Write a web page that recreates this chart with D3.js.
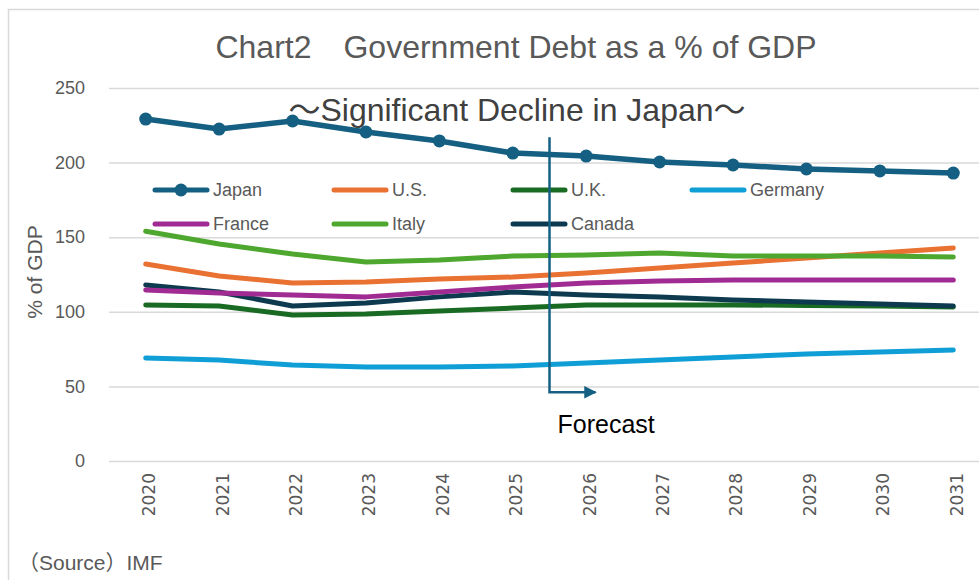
<!DOCTYPE html>
<html>
<head>
<meta charset="utf-8">
<script src="https://cdn.jsdelivr.net/npm/d3@7"></script>
<style>
  body { margin: 0; background: #fff; }
  svg { display: block; }
  .narrow { font-family: "Liberation Sans Narrow", "Liberation Sans", "Noto Sans CJK JP", sans-serif; }
</style>
</head>
<body>
<div id="chart"></div>
<script>
// Data
const years = ["2020", "2021", "2022", "2023", "2024", "2025", "2026", "2027", "2028", "2029", "2030", "2031"];
const japan   = [229.2, 222.5, 227.9, 220.5, 214.5, 206.4, 204.4, 200.4, 198.4, 195.7, 194.4, 193.0];
const us      = [132.0, 124.0, 119.3, 120.0, 122.0, 123.3, 126.0, 129.4, 132.7, 136.0, 139.4, 142.8];
const uk      = [104.6, 103.9, 97.9, 98.5, 100.5, 102.5, 104.6, 104.6, 104.6, 104.3, 103.9, 103.2];
const germany = [69.0, 67.7, 64.3, 63.0, 63.0, 63.7, 65.7, 67.7, 69.7, 71.7, 73.0, 74.4];
const france  = [114.6, 112.6, 111.3, 110.0, 113.3, 116.6, 119.3, 120.6, 121.3, 121.3, 121.3, 121.3];
const italy   = [154.0, 145.4, 138.7, 133.4, 134.7, 137.4, 138.0, 139.4, 137.4, 137.4, 137.4, 136.7];
const canada  = [118.0, 113.3, 103.9, 105.9, 110.0, 113.3, 111.3, 110.0, 107.9, 106.6, 105.2, 103.9];
const yTicks  = [0, 50, 100, 150, 200, 250];

const series = [
  { name: "Japan",   values: japan,   color: "#156082", marker: true },
  { name: "U.S.",    values: us,      color: "#E97132" },
  { name: "U.K.",    values: uk,      color: "#196B24" },
  { name: "Germany", values: germany, color: "#0F9ED5" },
  { name: "France",  values: france,  color: "#A02B93" },
  { name: "Italy",   values: italy,   color: "#4EA72E" },
  { name: "Canada",  values: canada,  color: "#0D3A4E" }
];

// Set dimensions
let width = 979,
    height = 580;
let plot = { left: 109, right: 990, top: 88, bottom: 461 };

let svg = d3.select("#chart")
  .append("svg")
    .attr("width", width)
    .attr("height", height);

// Outer border
svg.append("rect")
  .attr("x", 8.5).attr("y", 9.5)
  .attr("width", width + 10).attr("height", height + 10)
  .attr("fill", "none")
  .attr("stroke", "#d9d9d9")
  .attr("stroke-width", 1.5);

// Scales
let x = d3.scalePoint()
  .domain(years)
  .range([plot.left, plot.right])
  .padding(0.5);

let y = d3.scaleLinear()
  .domain([0, 250])
  .range([plot.bottom, plot.top]);

// Gridlines + y labels
let yAxis = svg.append("g")
  .attr("transform", `translate(${plot.left},0)`)
  .call(d3.axisLeft(y).tickValues(yTicks).tickSize(-(width - plot.left)).tickPadding(24));
yAxis.select(".domain").remove();
yAxis.selectAll(".tick line").attr("stroke", "#d9d9d9").attr("stroke-width", 1.5);
yAxis.selectAll(".tick text")
  .attr("fill", "#595959")
  .attr("font-size", 18)
  .attr("font-family", "Liberation Sans Narrow, Liberation Sans, sans-serif");

// x labels (rotated)
let xAxis = svg.append("g")
  .attr("transform", `translate(0,${plot.bottom})`)
  .call(d3.axisBottom(x).tickSize(0));
xAxis.select(".domain").remove();
xAxis.selectAll(".tick text")
  .attr("fill", "#595959")
  .attr("font-size", 17)
  .attr("font-family", "DejaVu Sans, sans-serif")
  .attr("text-anchor", "end")
  .attr("dy", "0.35em")
  .attr("transform", "translate(0,12) rotate(-90)");

// Lines
let line = d3.line()
  .x((d, i) => x(years[i]))
  .y(d => y(d));

let drawOrder = ["Germany", "U.K.", "Canada", "France", "U.S.", "Italy", "Japan"];
drawOrder.forEach(n => {
  let s = series.find(d => d.name === n);
  svg.append("path")
    .datum(s.values)
    .attr("fill", "none")
    .attr("stroke", s.color)
    .attr("stroke-width", n === "Japan" ? 5.5 : 5)
    .attr("stroke-linejoin", "round")
    .attr("stroke-linecap", "round")
    .attr("d", line);
  if (s.marker) {
    svg.append("g").selectAll("circle")
      .data(s.values)
      .join("circle")
        .attr("cx", (d, i) => x(years[i]))
        .attr("cy", d => y(d))
        .attr("r", 6.5)
        .attr("fill", s.color);
  }
});

// Legend
let legend = svg.append("g");
series.forEach((s, i) => {
  let col = i < 4 ? i : i - 4,
      row = i < 4 ? 0 : 1;
  let gx = 155 + col * 179,
      gy = 190 + row * 34;
  let g = legend.append("g").attr("transform", `translate(${gx},${gy})`);
  g.append("line")
    .attr("x1", 0).attr("x2", 52)
    .attr("stroke", s.color)
    .attr("stroke-width", 5)
    .attr("stroke-linecap", "round");
  if (s.marker) g.append("circle").attr("cx", 26).attr("r", 6.5).attr("fill", s.color);
  g.append("text")
    .attr("class", "narrow")
    .attr("x", 58).attr("dy", "0.35em")
    .attr("fill", "#595959")
    .attr("font-size", 18)
    .text(s.name);
});

// Forecast marker between 2025 and 2026
let fx = (x("2025") + x("2026")) / 2;
svg.append("defs").append("marker")
  .attr("id", "arrow")
  .attr("viewBox", "0 0 10 10")
  .attr("refX", 9).attr("refY", 5)
  .attr("markerWidth", 5).attr("markerHeight", 5)
  .attr("orient", "auto")
  .append("path")
    .attr("d", "M0,0L10,5L0,10Z")
    .attr("fill", "#156082");
svg.append("path")
  .attr("d", `M${fx},${y(217)}V${y(46)}H${fx + 46}`)
  .attr("fill", "none")
  .attr("stroke", "#156082")
  .attr("stroke-width", 2.5)
  .attr("marker-end", "url(#arrow)");
svg.append("text")
  .attr("x", fx + 8).attr("y", 433)
  .attr("fill", "#000")
  .attr("font-size", 25)
  .attr("font-family", "Liberation Sans, sans-serif")
  .text("Forecast");

// Titles
svg.append("text")
  .attr("class", "narrow")
  .attr("x", 516).attr("y", 58)
  .attr("text-anchor", "middle")
  .attr("fill", "#595959")
  .attr("font-size", 32)
  .text("Chart2\u3000Government Debt as a % of GDP");

svg.append("text")
  .attr("class", "narrow")
  .attr("x", 517).attr("y", 121)
  .attr("text-anchor", "middle")
  .attr("fill", "#404040")
  .attr("font-size", 32)
  .text("～Significant Decline in Japan～");

// Axis title
svg.append("text")
  .attr("class", "narrow")
  .attr("transform", "translate(42,272) rotate(-90)")
  .attr("text-anchor", "middle")
  .attr("fill", "#595959")
  .attr("font-size", 21)
  .text("% of GDP");

// Source
svg.append("text")
  .attr("class", "narrow")
  .attr("x", 18).attr("y", 570)
  .attr("fill", "#595959")
  .attr("font-size", 21)
  .text("（Source）IMF");
</script>
</body>
</html>
